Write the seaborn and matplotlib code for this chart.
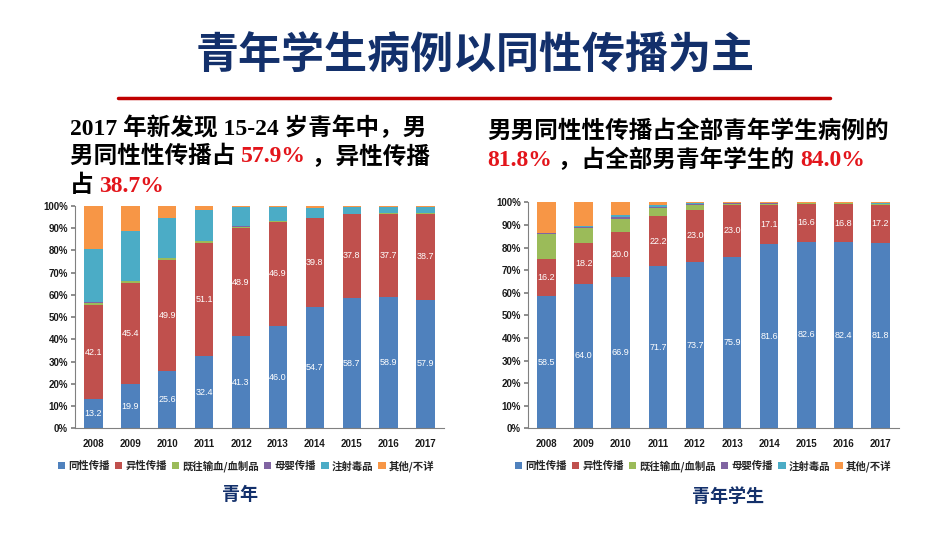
import matplotlib
matplotlib.use("Agg")
import matplotlib.pyplot as plt
from matplotlib.patches import Patch
from matplotlib.lines import Line2D
import pandas as pd
import seaborn as sns

# %% data
years = ['2008', '2009', '2010', '2011', '2012', '2013', '2014', '2015', '2016', '2017']
modes = ['同性传播', '异性传播', '既往输血/血制品', '母婴传播', '注射毒品', '其他/不详']
colors = ['#4F81BD', '#C0504D', '#9BBB59', '#8064A2', '#4BACC6', '#F79646']

# 青年
youth_homo = [13.2, 19.9, 25.6, 32.4, 41.3, 46.0, 54.7, 58.7, 58.9, 57.9]
youth_hetero = [42.1, 45.4, 49.9, 51.1, 48.9, 46.9, 39.8, 37.8, 37.7, 38.7]
youth_blood = [1.2, 0.9, 1.0, 0.8, 0.5, 0.2, 0.1, 0.1, 0.1, 0.1]
youth_mother = [0.1, 0.1, 0.1, 0.1, 0.1, 0.1, 0.0, 0.0, 0.0, 0.0]
youth_idu = [23.9, 22.5, 18.2, 13.9, 8.8, 6.4, 4.6, 2.8, 2.7, 2.7]
youth_other = [19.5, 11.2, 5.2, 1.7, 0.4, 0.4, 0.8, 0.6, 0.6, 0.6]

# 青年学生
student_homo = [58.5, 64.0, 66.9, 71.7, 73.7, 75.9, 81.6, 82.6, 82.4, 81.8]
student_hetero = [16.2, 18.2, 20.0, 22.2, 23.0, 23.0, 17.1, 16.6, 16.8, 17.2]
student_blood = [11.3, 6.3, 5.7, 3.6, 2.3, 0.5, 0.7, 0.3, 0.3, 0.3]
student_mother = [0.3, 0.7, 1.0, 0.6, 0.4, 0.1, 0.1, 0.0, 0.0, 0.1]
student_idu = [0.2, 0.3, 0.8, 0.5, 0.3, 0.1, 0.1, 0.2, 0.2, 0.1]
student_other = [13.5, 10.5, 5.6, 1.4, 0.3, 0.4, 0.4, 0.3, 0.3, 0.5]

youth = [youth_homo, youth_hetero, youth_blood, youth_mother, youth_idu, youth_other]
student = [student_homo, student_hetero, student_blood, student_mother, student_idu, student_other]

CJK = ['Noto Sans CJK SC', 'DejaVu Sans']
SERIF_CJK = ['Liberation Serif', 'Noto Sans CJK SC']
NAVY = '#13306B'
RED = '#E3151B'

sns.set_theme(style="white")
plt.rcParams['font.family'] = CJK


def stacked(ax, series):
    df = pd.DataFrame({m: s for m, s in zip(modes, series)}, index=years)
    cum = df.cumsum(axis=1)
    # draw cumulative totals from the top series down so each layer covers the next
    for m, c in reversed(list(zip(modes, colors))):
        sns.barplot(x=cum.index, y=cum[m].values, color=c, width=0.5,
                    saturation=1, linewidth=0, ax=ax)
    # value labels for the two main modes
    for k in range(2):
        bottom = cum.iloc[:, k] - df.iloc[:, k]
        for i, v in enumerate(df.iloc[:, k]):
            ax.text(i, bottom.iloc[i] + v / 2, '%.1f' % v, ha='center', va='center',
                    color='white', fontsize=6.5, family='Liberation Sans')
    ax.set_xlim(-0.5, 9.5)
    ax.set_ylim(0, 100)
    ax.set_yticks(range(0, 101, 10))
    ax.set_yticklabels(['%d%%' % t for t in range(0, 101, 10)])
    ax.set_xticks([x - 0.5 for x in range(11)], minor=True)
    ax.tick_params(axis='x', which='major', length=0, pad=8)
    ax.tick_params(axis='x', which='minor', length=3, color='#808080', direction='out')
    ax.tick_params(axis='y', length=3, color='#808080', direction='out', pad=2, left=True)
    for lab in ax.get_xticklabels() + ax.get_yticklabels():
        lab.set_fontfamily('Liberation Sans')
        lab.set_fontweight('bold')
        lab.set_fontsize(7)
        lab.set_color('#1a1a1a')
    for s in ['top', 'right']:
        ax.spines[s].set_visible(False)
    for s in ['left', 'bottom']:
        ax.spines[s].set_color('#808080')
        ax.spines[s].set_linewidth(0.8)
    ax.set_xlabel('')
    ax.set_ylabel('')


fig = plt.figure(figsize=(9.5, 5.35), dpi=100)
bg = fig.add_axes([0, 0, 1, 1])
bg.axis('off')


def px(x, y):
    return x / 950, 1 - y / 535


ax1 = fig.add_axes([75 / 950, 1 - 428.3 / 535, 369 / 950, 222.3 / 535])
ax2 = fig.add_axes([528 / 950, 1 - 428.3 / 535, 371 / 950, 226 / 535])
stacked(ax1, youth)
stacked(ax2, student)

# title + red rule
fig.text(*px(475, 56), '青年学生病例以同性传播为主', ha='center', va='center',
         fontsize=31, fontweight='heavy', color=NAVY, family=CJK)
fig.add_artist(Line2D([118 / 950, 830 / 950], [1 - 98 / 535] * 2, color='#C00000',
                      lw=2.5, transform=fig.transFigure))


def rich_line(x, y, parts):
    prev = None
    for txt, col in parts:
        if prev is None:
            prev = bg.text(*px(x, y), txt, ha='left', va='center', color=col,
                           fontsize=17, fontweight='bold', family=SERIF_CJK,
                           transform=fig.transFigure)
        else:
            prev = bg.annotate(txt, xy=(1, 0.5), xycoords=prev, ha='left', va='center',
                               color=col, fontsize=17, fontweight='bold', family=SERIF_CJK)


rich_line(70, 128, [('2017 年新发现 15-24 岁青年中，男', 'black')])
rich_line(70, 157, [('男同性性传播占 ', 'black'), ('57.9%', RED), (' ，异性传播', 'black')])
rich_line(70, 186, [('占 ', 'black'), ('38.7%', RED)])
rich_line(487, 131, [('男男同性性传播占全部青年学生病例的', 'black')])
rich_line(487, 160, [('81.8%', RED), (' ，占全部男青年学生的 ', 'black'), ('84.0%', RED)])

# legends
handles = [Patch(facecolor=c, edgecolor='none', label=m) for m, c in zip(modes, colors)]
for cx in (246, 703):
    fig.legend(handles=handles, loc='center', bbox_to_anchor=px(cx, 466), ncol=6,
               frameon=False, handlelength=0.7, handleheight=0.7, handletextpad=0.3,
               columnspacing=0.5, prop={'family': CJK, 'weight': 'bold', 'size': 7.5})

fig.text(*px(240, 495), '青年', ha='center', va='center', fontsize=13,
         fontweight='bold', color=NAVY, family=CJK)
fig.text(*px(728, 496), '青年学生', ha='center', va='center', fontsize=13,
         fontweight='bold', color=NAVY, family=CJK)

fig.savefig('out.png', dpi=100)
